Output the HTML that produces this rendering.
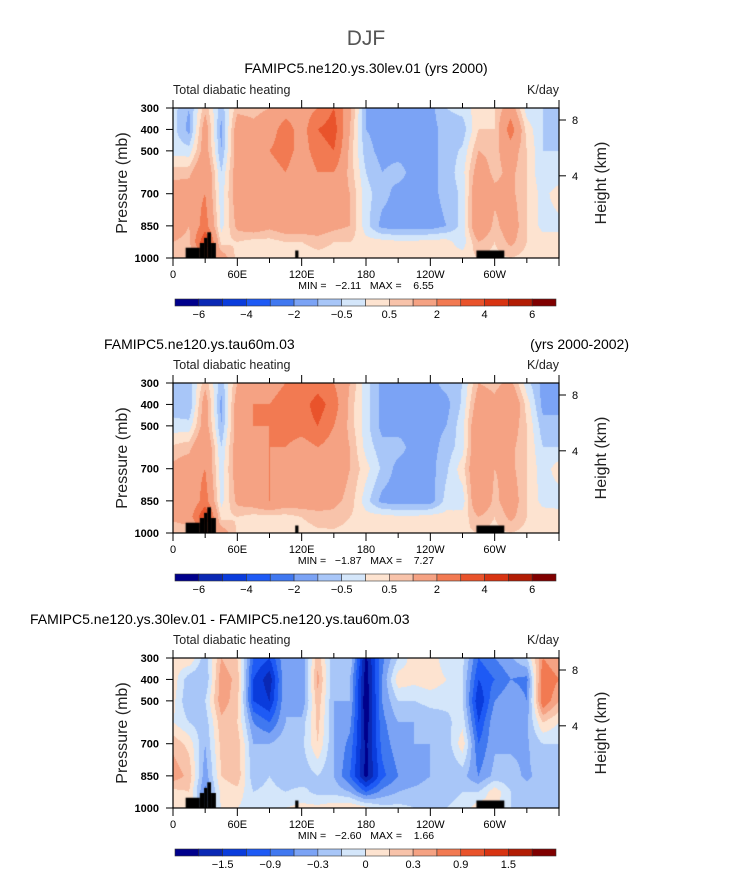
<!DOCTYPE html>
<html><head><meta charset="utf-8">
<style>
body{margin:0;background:#fff;font-family:"Liberation Sans",sans-serif;}
#root{position:relative;width:733px;height:888px;overflow:hidden;}
canvas{position:absolute;}
svg{position:absolute;left:0;top:0;}
.pre{white-space:pre;}
</style></head>
<body>
<div id="root">
<svg id="svg" width="733" height="888"></svg>
</div>
<script>
const lons=[0,15,30,45,60,75,90,105,120,135,150,165,180,195,210,225,240,255,270,285,300,315,330,345,360];
const pres=[300,400,500,600,700,850,925,1000];
const p1=[[-0.3,-0.3,-0.2,0.7,1.5,1.5,1,0.5],[-1,-1.2,-0.3,0.8,1.5,1,0.8,0.5],[0.8,1.5,1.5,2,2,2.5,4,2],[-0.8,-1.2,-1,-0.5,-0.3,-0.2,0.3,1.5],[0.8,1.5,1.5,1.5,1.5,1.2,0.5,0.3],[0.8,1.2,1.5,1.5,1.2,1.5,0.3,0.2],[1,1.5,2,1.5,1.5,1.2,0.3,0.3],[1.5,2.5,2.5,2,1.5,1.5,0.5,0.3],[1.5,1.5,1.5,1.2,1.5,1.5,0.5,0.2],[2,3,2.5,2,1.5,1.5,0.7,0.3],[3,3.5,3,2,1.5,1.2,0.5,0.3],[1.2,1,0.8,0.8,1,1,0.5,0.3],[-1,-1,-0.8,-0.5,-0.3,-0.3,0.2,0.3],[-1.2,-1.2,-1.2,-1,-0.8,-1.2,0.2,0.3],[-1.2,-1.2,-1.2,-0.8,-1.2,-1.3,0.1,0.3],[-1.2,-1.2,-1.2,-1.2,-1.2,-1.3,0.1,0.2],[-1.2,-1.2,-1.2,-1.2,-1.2,-1.3,0.2,0.2],[-0.5,-0.8,-0.8,-0.8,-0.8,-1,0.2,0.2],[-0.3,-0.8,-0.4,-0.2,-0.4,-0.3,-0.3,0.3],[0.3,0.5,1,1.5,2,2,1,0.5],[0.5,0.5,0.8,0.8,1.2,0.8,0.5,0.3],[1.5,2.5,1.5,1.2,1.2,1.5,1.2,0.5],[-0.3,0.3,0.5,0.5,0.5,0.5,0.5,0.3],[-0.5,-0.5,-0.5,-0.5,-0.2,-0.2,0.3,0.3],[-0.8,-0.8,-0.5,-0.4,0.3,-0.2,0.3,0.3]];
const p2=[[-0.6,-0.8,-0.3,0.6,1.2,1.2,1.2,0.5],[-0.8,-1,-0.3,0.8,1.5,1,1.5,0.5],[0.8,1.5,1.5,2,2,2.5,4,2],[-0.8,-1.2,-1,-0.5,-0.3,-0.2,0.3,1.5],[1,1.5,1.5,1.5,1.5,1.2,0.5,0.4],[1.2,2,2,1.5,1.2,1.5,0.3,0.3],[1.5,2,2,2,2,2,0.3,0.4],[2,2.5,2.5,2,1.5,1.5,0.3,0.3],[2,2.5,2.5,1.5,1.5,1.5,0.5,0.3],[2.5,3.5,3,2,1.5,1.5,0.7,0.4],[2,2.5,2,1.5,1.5,1.2,0.8,0.4],[1,0.8,0.8,1,1,0.8,0.5,0.3],[-0.3,-0.3,-0.3,-0.2,0.2,-0.3,0.2,0.3],[-1.2,-1.2,-1.2,-0.8,-0.6,-1.2,0.2,0.3],[-1.2,-1.2,-1.2,-0.8,-1.2,-1.3,0.1,0.3],[-1.2,-1.2,-1.2,-1.2,-1.2,-1.3,0.1,0.3],[-1.2,-1.2,-1.2,-1.2,-1.2,-1.3,0.2,0.3],[-0.8,-1.2,-1,-0.8,-0.6,-0.3,0.2,0.3],[-0.5,-0.4,-0.2,-0.2,0.3,-0.3,0.2,0.4],[1,1.5,2,2,2,2,1,0.5],[0.8,1.2,1.2,1,1,0.8,0.5,0.3],[1.2,2,1.5,1.2,1.2,1.5,1.2,0.5],[-0.3,0.3,0.5,0.5,0.5,0.5,0.5,0.3],[-1.2,-1.2,-0.8,-0.5,-0.3,-0.2,0.3,0.3],[-1.2,-1.2,-0.8,-0.5,0.3,-0.3,0.3,0.3]];
const p3=[[0.1,0.2,0.1,0,0.5,0.8,0.2,0.1],[0.3,-0.5,-0.6,-0.3,0.2,0.5,0.3,0.2],[-0.5,-0.6,-0.3,-0.5,-0.6,-0.8,-1,-0.5],[0.6,0.8,0.8,0.5,0.4,0.3,0.1,0],[0.3,0.5,0.4,0.3,0.5,0.5,0.2,0],[-1.2,-1.5,-1.5,-0.9,-0.6,-0.5,-0.3,-0.2],[-1.5,-2,-1.8,-1.2,-0.6,-0.3,-0.2,-0.2],[-0.6,-0.6,-0.6,-0.6,-0.4,-0.5,-0.3,0],[-0.9,-0.9,-0.9,-0.5,-0.4,-0.5,-0.2,0.1],[0.5,0.7,0.5,0.4,0.3,-0.3,-0.4,0.1],[-0.6,-0.6,-0.6,-0.6,-0.6,-0.6,-0.4,0.2],[-0.3,-0.6,-0.6,-0.8,-1,-1.2,-0.6,0.3],[-2.2,-2.3,-2.4,-2.3,-2.2,-2.2,-1.2,0.1],[-1,-0.9,-0.9,-1,-1.1,-1.3,-0.8,-0.2],[-0.3,0.2,-0.3,-0.6,-0.7,-0.9,-0.6,-0.2],[0.2,0.1,-0.3,-0.6,-0.6,-0.8,-0.5,-0.3],[0.2,0.2,-0.2,-0.5,-0.6,-0.6,-0.4,-0.3],[-0.2,0,-0.2,-0.4,-0.5,-0.6,-0.4,-0.3],[-0.2,-0.3,-0.3,-0.1,0.2,-0.5,-0.3,-0.2],[-1.2,-1.5,-1.8,-1.5,-1.2,-0.9,-0.3,0.2],[-0.9,-1.2,-0.9,-0.65,-0.65,-0.5,0.2,0.1],[-0.65,-0.9,-0.65,-0.65,-0.65,-0.5,-0.3,-0.3],[-0.3,-1,-0.9,-0.65,-0.65,-0.65,-0.5,-0.4],[0.9,1.2,1.2,0.3,-0.3,-0.5,-0.5,-0.6],[0.6,0.9,0.6,0,-0.3,-0.3,-0.4,-0.5]];
const levelsA=[-6,-5,-4,-3,-2,-1,-0.5,0,0.5,1,2,3,4,5,6];
const labelsA=["-6","-4","-2","-0.5","0.5","2","4","6"];
const levelsB=[-2.1,-1.8,-1.5,-1.2,-0.9,-0.6,-0.3,0,0.3,0.6,0.9,1.2,1.5,1.8,2.1];
const labelsB=["-1.5","-0.9","-0.3","0","0.3","0.9","1.5"];
const colors=["#00008c","#0a28b4","#0a3cdc","#1e5af5","#4078f0","#7ba3f5","#a8c6f8","#d4e6fa","#fde3d0","#f8c3aa","#f5a283","#f27a52","#e9532b","#d83412","#b21c04","#800000"];
const topo=[[11.8,25,952],[25,29,930],[29,32,906],[32,35.5,880],[35.5,40,930],[114,117,965],[283,309,965]];
const xTickLabels=["0","60E","120E","180","120W","60W"];
const pTicks=[300,400,500,700,850,1000];
const zTicks=[8,4];
const NS="http://www.w3.org/2000/svg";
const svg=document.getElementById('svg');
const X0=173,X1=559,H=150;
function xs(l){return X0+(X1-X0)*l/360;}
function ys(top,p){return top+H*(p-300)/700;}
function zToP(z){return 1013.25*Math.pow(1-0.0065*z*1000/288.15,5.255);}
function el(tag,attrs,txt){const e=document.createElementNS(NS,tag);for(const k in attrs)e.setAttribute(k,attrs[k]);if(txt!==undefined)e.textContent=txt;svg.appendChild(e);return e;}
function val(g,l,p){let i=Math.min(Math.floor(l/15),23);let tx=(l-lons[i])/15;let j=0;while(j<pres.length-2&&p>pres[j+1])j++;let ty=(p-pres[j])/(pres[j+1]-pres[j]);ty=Math.max(0,Math.min(1,ty));
return (g[i][j]*(1-tx)+g[i+1][j]*tx)*(1-ty)+(g[i][j+1]*(1-tx)+g[i+1][j+1]*tx)*ty;}
function idx(v,lv){let k=0;while(k<lv.length&&v>=lv[k])k++;return k;}
function panel(top,g,lv,labs,minmax,name){
 const c=document.createElement('canvas');c.width=X1-X0;c.height=H;c.style.left=X0+'px';c.style.top=top+'px';
 
 
 document.getElementById('root').insertBefore(c,svg);
 const ctx=c.getContext('2d');
 for(let x=0;x<c.width;x++){const l=(x+0.5)*360/c.width;for(let y=0;y<H;y++){const p=300+700*(y+0.5)/H;ctx.fillStyle=colors[idx(val(g,l,p),lv)];ctx.fillRect(x,y,1,1);}}
 topo.forEach(t=>{ctx.fillStyle='#000';const y=H*(t[2]-300)/700;ctx.fillRect(xs(t[0])-X0,y,xs(t[1])-xs(t[0]),H-y);});
 const fr=el('rect',{x:X0,y:top,width:X1-X0,height:H,fill:'none',stroke:'#000','stroke-width':1.2});
 
 for(let l=0;l<=360;l+=30){const x=xs(l),len=(l%60==0)?8:5;
  el('line',{x1:x,x2:x,y1:top+H,y2:top+H+len,stroke:'#000','stroke-width':1});
  el('line',{x1:x,x2:x,y1:top,y2:top-len,stroke:'#000','stroke-width':1});}
 xTickLabels.forEach((s,i)=>{const t=el('text',{x:xs(i*60),y:top+H+20,'font-size':11,'text-anchor':'middle'},s);});
 pTicks.forEach(p=>{const y=ys(top,p);el('line',{x1:X0-7,x2:X0,y1:y,y2:y,stroke:'#000'});
  const t=el('text',{x:159,y:y+4,'font-size':11,'font-weight':'bold','text-anchor':'end'},p);});
 zTicks.forEach(z=>{const y=ys(top,zToP(z));el('line',{x1:X1,x2:X1+7,y1:y,y2:y,stroke:'#000'});
  const t=el('text',{x:572,y:y+4,'font-size':11},z);});
 let t=el('text',{x:X0,y:top-14,'font-size':12.5,fill:'#222'},'Total diabatic heating');
 t=el('text',{x:X1,y:top-14,'font-size':12.5,'text-anchor':'end',fill:'#222'},'K/day');
 const cy=top+75;
 t=el('text',{x:127,y:cy,'font-size':16,'text-anchor':'middle',transform:`rotate(-90 127 ${cy})`,fill:'#222'},'Pressure (mb)');
 t=el('text',{x:606,y:cy,'font-size':16,'text-anchor':'middle',transform:`rotate(-90 606 ${cy})`,fill:'#222'},'Height (km)');
 t=el('text',{x:366,y:top+H+31,'font-size':10.5,'text-anchor':'middle','class':'pre'},minmax);
 const by=top+191,bx0=175,bw=(556-175)/16;
 colors.forEach((col,i)=>{const r=el('rect',{x:bx0+i*bw,y:by,width:bw,height:7,fill:col,stroke:'#333','stroke-width':0.6});});
 const start=labs.length==8?1:2;
 labs.forEach((s,i)=>{const t=el('text',{x:bx0+(start+i*2)*bw,y:by+19,'font-size':11,'text-anchor':'middle'},s.replace('-','\u2212'));});
}
let t=el('text',{x:366,y:45,'font-size':21,'text-anchor':'middle',fill:'#555'},'DJF');
t=el('text',{x:366,y:73,'font-size':14,'text-anchor':'middle'},'FAMIPC5.ne120.ys.30lev.01 (yrs 2000)');
t=el('text',{x:104,y:349,'font-size':14},'FAMIPC5.ne120.ys.tau60m.03');
t=el('text',{x:629,y:349,'font-size':14,'text-anchor':'end'},'(yrs 2000-2002)');
t=el('text',{x:30,y:624,'font-size':14},'FAMIPC5.ne120.ys.30lev.01 - FAMIPC5.ne120.ys.tau60m.03');
panel(108,p1,levelsA,labelsA,'MIN =   \u22122.11   MAX =    6.55','panel1');
panel(383,p2,levelsA,labelsA,'MIN =   \u22121.87   MAX =    7.27','panel2');
panel(658,p3,levelsB,labelsB,'MIN =   \u22122.60   MAX =    1.66','panel3');
</script>
</body></html>
